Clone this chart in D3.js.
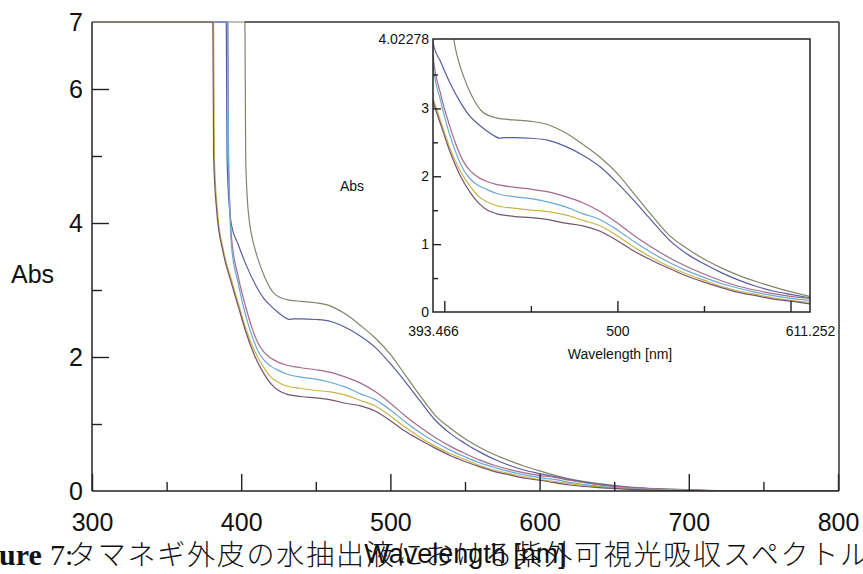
<!DOCTYPE html>
<html>
<head>
<meta charset="utf-8">
<script src="https://d3js.org/d3.v7.min.js"></script>
<style>
	body { margin: 0; background: #fff; }
	svg { display: block; }
</style>
</head>
<body>
<svg id="chart" width="863" height="574"></svg>
<script>
/* --------------------------------------------
 * UV-Vis absorption spectra, with zoomed inset
 * ============================================
 */

// series: [wavelength nm, absorbance]
var seriesNames = ["s1", "s2", "s3", "s4", "s5", "s6"];
var seriesColors = ["#83836c", "#5a5aa2", "#a46a8c", "#6aa8d6", "#c8b44a", "#74546c"];

var spectrum1 = [[300,7],[402.5,7],[403,5.0],[404,4.4],[405.5,4.02],[408,3.72],[411,3.48],[416,3.18],[422,2.95],[430,2.86],[440,2.83],[450,2.81],[460,2.76],[470,2.64],[480,2.47],[490,2.28],[500,2.04],[510,1.73],[520,1.42],[530,1.13],[540,0.94],[550,0.78],[560,0.65],[570,0.54],[580,0.45],[590,0.37],[600,0.30],[611,0.23],[620,0.18],[640,0.11],[660,0.06],[680,0.035],[700,0.02],[725,0],[800,0]];
var spectrum2 = [[300,7],[390,7],[390.5,5.0],[392,4.25],[393.5,3.97],[398,3.68],[403,3.39],[410,3.06],[415,2.88],[420,2.76],[425,2.66],[430,2.58],[432,2.56],[435,2.57],[440,2.57],[450,2.56],[460,2.53],[470,2.44],[480,2.31],[490,2.14],[500,1.90],[510,1.63],[520,1.34],[530,1.06],[540,0.86],[550,0.71],[560,0.58],[570,0.47],[580,0.38],[590,0.31],[600,0.26],[611,0.21],[620,0.17],[640,0.10],[660,0.055],[680,0.03],[700,0.015],[725,0],[800,0]];
var spectrum3 = [[300,7],[391,7],[391.5,5.0],[392.5,4.2],[393.5,3.78],[398,3.2],[403,2.75],[407,2.45],[411,2.22],[415,2.08],[420,1.98],[425,1.92],[430,1.88],[440,1.84],[450,1.81],[460,1.77],[470,1.70],[480,1.61],[490,1.48],[500,1.31],[510,1.12],[520,0.95],[530,0.80],[540,0.67],[550,0.56],[560,0.46],[570,0.38],[580,0.32],[590,0.27],[600,0.23],[611,0.20],[620,0.16],[640,0.09],[660,0.05],[680,0.03],[700,0.015],[725,0],[800,0]];
var spectrum4 = [[300,7],[391,7],[391.5,5.0],[392.5,4.1],[393.5,3.65],[398,3.1],[403,2.62],[407,2.33],[411,2.10],[415,1.96],[420,1.86],[425,1.80],[430,1.75],[440,1.70],[450,1.67],[460,1.62],[470,1.55],[480,1.45],[490,1.36],[500,1.21],[510,1.03],[520,0.87],[530,0.73],[540,0.61],[550,0.51],[560,0.42],[570,0.35],[580,0.29],[590,0.24],[600,0.20],[611,0.17],[620,0.13],[640,0.07],[660,0.04],[680,0.02],[700,0.01],[725,0],[800,0]];
var spectrum5 = [[300,7],[381.5,7],[382,5.0],[384,4.2],[388,3.6],[393.5,3.15],[399,2.73],[403,2.43],[409,2.09],[415,1.85],[420,1.70],[425,1.62],[430,1.57],[440,1.53],[450,1.50],[460,1.48],[470,1.43],[480,1.35],[490,1.27],[500,1.12],[510,0.95],[520,0.80],[530,0.67],[540,0.56],[550,0.47],[560,0.38],[570,0.31],[580,0.26],[590,0.21],[600,0.17],[611,0.14],[620,0.11],[640,0.06],[660,0.03],[680,0.015],[700,0.008],[725,0],[800,0]];
var spectrum6 = [[300,7],[381,7],[381.5,5.0],[383.5,4.2],[388,3.55],[393.5,3.1],[399,2.68],[403,2.38],[409,2.02],[415,1.76],[420,1.60],[425,1.50],[430,1.45],[440,1.41],[450,1.39],[460,1.36],[470,1.31],[480,1.27],[490,1.19],[500,1.05],[510,0.89],[520,0.76],[530,0.64],[540,0.53],[550,0.44],[560,0.36],[570,0.29],[580,0.24],[590,0.19],[600,0.16],[611,0.12],[620,0.09],[640,0.05],[660,0.025],[680,0.01],[700,0.005],[725,0],[800,0]];
var spectra = [spectrum1, spectrum2, spectrum3, spectrum4, spectrum5, spectrum6];

// main axes
var mainXDomain = [300, 800];
var mainYDomain = [0, 7];
var mainXMajor = [300, 400, 500, 600, 700, 800];
var mainXMinor = [350, 450, 550, 650, 750];
var mainYLabels = [0, 2, 4, 6, 7];
var mainYMinor = [1, 3, 5];

// inset axes
var insetXDomain = [393.466, 611.252];
var insetYDomain = [0, 4.02278];
var insetXLabels = [393.466, 500, 611.252];
var insetXMajor = [400, 500, 600];
var insetXMinor = [450, 550];
var insetYLabels = [0, 1, 2, 3, 4.02278];
var insetYMajor = [1, 2, 3];
var insetYMinor = [0.5, 1.5, 2.5, 3.5];

var caption = "タマネギ外皮の水抽出液における紫外可視光吸収スペクトル";

var svg = d3.select("#chart");
var FONT = "Arial, 'Liberation Sans', sans-serif";

// main plot box
var M = { left: 92, right: 838, top: 22, bottom: 491 };
var x = d3.scaleLinear().domain(mainXDomain).range([M.left, M.right]);
var y = d3.scaleLinear().domain(mainYDomain).range([M.bottom, M.top]);

// inset box
var I = { left: 433, right: 810, top: 39, bottom: 312 };
var ix = d3.scaleLinear().domain(insetXDomain).range([I.left, I.right]);
var iy = d3.scaleLinear().domain(insetYDomain).range([I.bottom, I.top]);

var defs = svg.append("defs");
defs.append("clipPath").attr("id", "clipMain").append("rect")
	.attr("x", M.left).attr("y", M.top - 1)
	.attr("width", M.right - M.left).attr("height", M.bottom - M.top + 1);
defs.append("clipPath").attr("id", "clipInset").append("rect")
	.attr("x", I.left).attr("y", I.top)
	.attr("width", I.right - I.left).attr("height", I.bottom - I.top);

function drawCurves(g, sx, sy, clipId)
{
	var line = d3.line()
		.x(function(d) { return sx(d[0]); })
		.y(function(d) { return sy(d[1]); })
		.curve(d3.curveMonotoneX);

	g.append("g").attr("clip-path", "url(#" + clipId + ")")
		.selectAll("path").data(spectra).enter()
		.append("path")
		.attr("d", line)
		.attr("fill", "none")
		.attr("stroke", function(d, i) { return seriesColors[i]; })
		.attr("stroke-width", 1.2);
}

function styleAxis(g, size)
{
	g.select(".domain").remove();
	g.selectAll("line").attr("stroke", "#222").attr("stroke-width", 1.4);
	g.selectAll("text").attr("fill", "#111").style("font-family", FONT).style("font-size", size + "px");
}

// ---------- main plot ----------
var main = svg.append("g");
drawCurves(main, x, y, "clipMain");

main.append("g").attr("transform", "translate(0," + M.bottom + ")")
	.call(d3.axisBottom(x).tickValues(mainXMinor).tickSize(-9).tickFormat(""))
	.call(styleAxis, 25);
main.append("g").attr("transform", "translate(0," + M.bottom + ")")
	.call(d3.axisBottom(x).tickValues(mainXMajor).tickSize(-17).tickPadding(22).tickFormat(d3.format("d")))
	.call(styleAxis, 25);
main.append("g").attr("transform", "translate(" + M.left + ",0)")
	.call(d3.axisLeft(y).tickValues(mainYMinor).tickSize(-10).tickFormat(""))
	.call(styleAxis, 25);
var mainY = main.append("g").attr("transform", "translate(" + M.left + ",0)")
	.call(d3.axisLeft(y).tickValues(mainYLabels).tickSize(-17).tickPadding(9).tickFormat(d3.format("d")))
	.call(styleAxis, 25);
mainY.selectAll(".tick").filter(function(d) { return d === 7 || d === 0; }).select("line").remove();

// frame lines
main.append("line").attr("x1", M.left).attr("x2", M.left).attr("y1", M.top).attr("y2", M.bottom)
	.attr("stroke", "#222").attr("stroke-width", 1.5);
main.append("line").attr("x1", M.left).attr("x2", M.right + 1).attr("y1", M.bottom).attr("y2", M.bottom)
	.attr("stroke", "#222").attr("stroke-width", 1.5);
main.append("line").attr("x1", x(spectrum1[1][0])).attr("x2", M.right + 1).attr("y1", M.top).attr("y2", M.top)
	.attr("stroke", "#333").attr("stroke-width", 1.5);
main.append("line").attr("x1", M.right + 1).attr("x2", M.right + 1).attr("y1", M.top).attr("y2", M.bottom)
	.attr("stroke", "#333").attr("stroke-width", 1.5);

main.append("text").attr("x", 11).attr("y", 283)
	.style("font-family", FONT).style("font-size", "25px").attr("fill", "#111")
	.text("Abs");

// ---------- inset ----------
var inset = svg.append("g");
drawCurves(inset, ix, iy, "clipInset");

inset.append("g").attr("transform", "translate(0," + I.bottom + ")")
	.call(d3.axisBottom(ix).tickValues(insetXMinor).tickSize(-6).tickFormat(""))
	.call(styleAxis, 14);
inset.append("g").attr("transform", "translate(0," + I.bottom + ")")
	.call(d3.axisBottom(ix).tickValues(insetXMajor).tickSize(-11).tickFormat(""))
	.call(styleAxis, 14);
inset.append("g").attr("transform", "translate(0," + I.bottom + ")")
	.call(d3.axisBottom(ix).tickValues(insetXLabels).tickSize(0).tickPadding(14).tickFormat(function(d) { return d === 500 ? "500" : d3.format(".3f")(d); }))
	.call(styleAxis, 14);
inset.append("g").attr("transform", "translate(" + I.left + ",0)")
	.call(d3.axisLeft(iy).tickValues(insetYMinor).tickSize(-5).tickFormat(""))
	.call(styleAxis, 14);
inset.append("g").attr("transform", "translate(" + I.left + ",0)")
	.call(d3.axisLeft(iy).tickValues(insetYMajor).tickSize(-8).tickFormat(""))
	.call(styleAxis, 14);
inset.append("g").attr("transform", "translate(" + I.left + ",0)")
	.call(d3.axisLeft(iy).tickValues(insetYLabels).tickSize(0).tickPadding(4).tickFormat(function(d) { return d > 4 ? "4.02278" : d3.format("d")(d); }))
	.call(styleAxis, 14);

inset.append("rect")
	.attr("x", I.left).attr("y", I.top)
	.attr("width", I.right - I.left).attr("height", I.bottom - I.top)
	.attr("fill", "none").attr("stroke", "#222").attr("stroke-width", 1.5);

inset.append("text").attr("x", 352).attr("y", 191).attr("text-anchor", "middle")
	.style("font-family", FONT).style("font-size", "14px").attr("fill", "#111")
	.text("Abs");
inset.append("text").attr("x", 620).attr("y", 359).attr("text-anchor", "middle")
	.style("font-family", FONT).style("font-size", "14px").attr("fill", "#111")
	.text("Wavelength [nm]");

// ---------- caption, overlapping main x title ----------
var cap = svg.append("text").attr("y", 565).attr("fill", "#111");
cap.append("tspan").attr("x", -1)
	.style("font-family", "'Liberation Serif', 'DejaVu Serif', serif").style("font-size", "30px").style("font-weight", "bold")
	.text("ure");
cap.append("tspan").attr("x", 50)
	.style("font-family", "'Liberation Serif', 'DejaVu Serif', serif").style("font-size", "30px")
	.text("7:");
svg.append("text").attr("x", 68).attr("y", 565)
	.attr("textLength", 800).attr("lengthAdjust", "spacing")
	.style("font-family", "'Noto Sans CJK JP', sans-serif").style("font-size", "28px").style("font-weight", 300)
	.attr("fill", "#111")
	.text(caption);

svg.append("text").attr("x", (M.left + M.right) / 2).attr("y", 563).attr("text-anchor", "middle")
	.style("font-family", FONT).style("font-size", "27px").attr("fill", "#111")
	.text("Wavelength [nm]");
</script>
</body>
</html>
